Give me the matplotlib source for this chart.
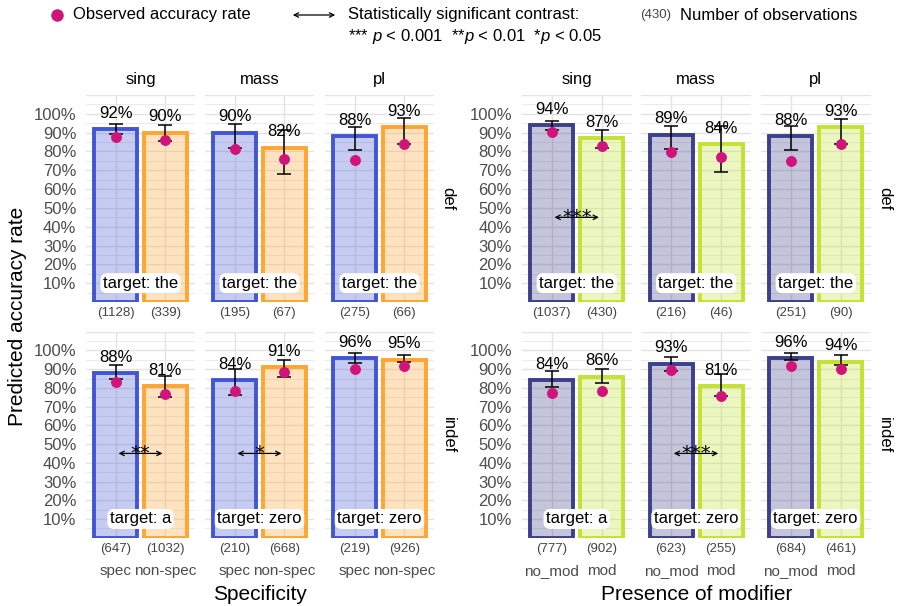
import matplotlib
matplotlib.use('Agg')
import matplotlib.pyplot as plt
from matplotlib.colors import to_rgba
import numpy as np

plt.rcParams['font.family'] = ['Liberation Sans', 'DejaVu Sans']
plt.rcParams['mathtext.fontset'] = 'custom'
plt.rcParams['mathtext.rm'] = 'Liberation Sans'
plt.rcParams['mathtext.it'] = 'Liberation Sans:italic'

# Data (proportions)
numbers = ['sing', 'mass', 'pl']
definiteness = ['def', 'indef']

spec_levels = ['spec', 'non-spec']
spec_pred = {'def': [[0.92, 0.90], [0.90, 0.82], [0.88, 0.93]],
             'indef': [[0.88, 0.81], [0.84, 0.91], [0.96, 0.95]]}
spec_lo = {'def': [[0.893, 0.855], [0.82, 0.682], [0.808, 0.84]],
           'indef': [[0.848, 0.75], [0.76, 0.86], [0.932, 0.938]]}
spec_hi = {'def': [[0.946, 0.939], [0.948, 0.916], [0.932, 0.978]],
           'indef': [[0.923, 0.862], [0.902, 0.95], [0.988, 0.977]]}
spec_obs = {'def': [[0.875, 0.863], [0.815, 0.76], [0.756, 0.841]],
            'indef': [[0.83, 0.767], [0.781, 0.887], [0.902, 0.916]]}
spec_n = {'def': [[1128, 339], [195, 67], [275, 66]],
          'indef': [[647, 1032], [210, 668], [219, 926]]}
spec_sig = {'def': [None, None, None], 'indef': ['**', '*', None]}

mod_levels = ['no_mod', 'mod']
mod_pred = {'def': [[0.94, 0.87], [0.89, 0.84], [0.88, 0.93]],
            'indef': [[0.84, 0.86], [0.93, 0.81], [0.96, 0.94]]}
mod_lo = {'def': [[0.915, 0.82], [0.815, 0.689], [0.809, 0.84]],
          'indef': [[0.803, 0.826], [0.89, 0.754], [0.947, 0.923]]}
mod_hi = {'def': [[0.96, 0.914], [0.937, 0.934], [0.937, 0.974]],
          'indef': [[0.889, 0.902], [0.965, 0.875], [0.988, 0.977]]}
mod_obs = {'def': [[0.901, 0.827], [0.799, 0.77], [0.751, 0.841]],
           'indef': [[0.771, 0.781], [0.893, 0.758], [0.916, 0.902]]}
mod_n = {'def': [[1037, 430], [216, 46], [251, 90]],
         'indef': [[777, 902], [623, 255], [684, 461]]}
mod_sig = {'def': ['***', None, None], 'indef': [None, '***', None]}

targets = {'def': ['the', 'the', 'the'], 'indef': ['a', 'zero', 'zero']}

W, H = 897, 606
POINT_COL = '#D1147C'
GRID_COL = '#E3E3E3'
FILL_ALPHA = 0.3

fig = plt.figure(figsize=(W / 100, H / 100), dpi=100)


def px_axes(x0, y0, x1, y1):
    return fig.add_axes([x0 / W, 1 - y1 / H, (x1 - x0) / W, (y1 - y0) / H])


def draw_group(panel_x, levels, pred, lo, hi, obs, nobs, sig, edge_cols, title):
    fill_cols = [to_rgba(col, FILL_ALPHA) for col in edge_cols]
    rows = [(95, 302), (331.7, 537.7)]
    for r, d in enumerate(definiteness):
        for c, num in enumerate(numbers):
            x0, x1 = panel_x[c]
            ax = px_axes(x0, rows[r][0], x1, rows[r][1])
            ax.set_xlim(0.4, 2.6)
            ax.set_ylim(0, 1.1)
            for v in np.arange(0.05, 1.11, 0.05):
                major = abs(v * 10 - round(v * 10)) < 1e-6
                ax.axhline(v, color=GRID_COL, lw=1.0 if major else 0.5, zorder=0)
            for xv in [1, 2]:
                ax.axvline(xv, color=GRID_COL, lw=1.0, zorder=0)
            for s in ax.spines.values():
                s.set_visible(False)
            ax.tick_params(length=0)

            xs = np.arange(1, 3)
            vals = pred[d][c]
            ax.bar(xs, vals, width=0.86, color=fill_cols, edgecolor=edge_cols,
                   linewidth=2.8, zorder=2)
            errs = [np.array(vals) - np.array(lo[d][c]), np.array(hi[d][c]) - np.array(vals)]
            ax.errorbar(xs, vals, yerr=errs, fmt='none', ecolor='black',
                        elinewidth=1.1, capsize=5, capthick=1.1, zorder=3)
            ax.scatter(xs, obs[d][c], s=62, color=POINT_COL, zorder=4, linewidths=0)
            for xv, v, n in zip(xs, vals, nobs[d][c]):
                ax.annotate(f'{round(v * 100)}%', (xv, v), xytext=(0, 6),
                            textcoords='offset points', ha='center', va='bottom',
                            fontsize=12, zorder=5)
                ax.annotate(f'({n})', (xv, 0), xytext=(0, -8),
                            textcoords='offset points', ha='center', va='center',
                            fontsize=9.5, color='#444444', annotation_clip=False)
            ax.text(1.5, 0.1, f'target: {targets[d][c]}', ha='center', va='center',
                    fontsize=12, zorder=6,
                    bbox=dict(boxstyle='round,pad=0.15,rounding_size=0.4',
                              fc='white', ec='none'))
            if sig[d][c]:
                ax.annotate('', xy=(2, 0.45), xytext=(1, 0.45),
                            arrowprops=dict(arrowstyle='<->', lw=0.9, color='black',
                                            mutation_scale=8), zorder=6)
                ax.annotate(sig[d][c], (1.5, 0.45), xytext=(0, -4),
                            textcoords='offset points', ha='center', va='baseline',
                            fontsize=14, family='DejaVu Sans', zorder=6)

            ax.set_yticks(np.arange(0.1, 1.01, 0.1))
            if c == 0:
                ax.set_yticklabels([f'{int(round(t * 100))}%' for t in np.arange(0.1, 1.01, 0.1)],
                                   fontsize=12, color='#4D4D4D')
                ax.tick_params(axis='y', pad=7)
            else:
                ax.set_yticklabels([])
            ax.set_xticks(xs)
            if r == 1:
                ax.set_xticklabels(levels, fontsize=11, color='#4D4D4D')
                ax.tick_params(axis='x', pad=19)
            else:
                ax.set_xticklabels([])
            if r == 0:
                ax.set_title(num, fontsize=12, pad=8)
            if c == 2:
                ax.text(1.06, 0.5, d, transform=ax.transAxes, rotation=270,
                        ha='left', va='center', fontsize=12)
    xc = (panel_x[0][0] + panel_x[2][1]) / 2
    fig.text(xc / W, 1 - 594 / H, title, ha='center', va='center', fontsize=15)


draw_group([(86, 195), (205, 314), (325, 434)], spec_levels, spec_pred, spec_lo,
           spec_hi, spec_obs, spec_n, spec_sig,
           ['#4255D3', '#FFA530'], 'Specificity')
draw_group([(521.7, 631.7), (641, 751), (760.7, 870.7)], mod_levels, mod_pred, mod_lo,
           mod_hi, mod_obs, mod_n, mod_sig,
           ['#3C3F8A', '#C3E232'], 'Presence of modifier')

fig.text(18 / W, 1 - 316 / H, 'Predicted accuracy rate', rotation=90,
         ha='center', va='center', fontsize=15)

# Legend across the top
fig.lines.append(plt.Line2D([57 / W], [1 - 15 / H], marker='o', ms=8, color=POINT_COL,
                            lw=0, transform=fig.transFigure))
fig.text(73 / W, 1 - 15 / H, 'Observed accuracy rate', ha='left', va='center', fontsize=12)
fig.patches.append(matplotlib.patches.FancyArrowPatch(
    (290 / W, 1 - 15 / H), (338 / W, 1 - 15 / H), arrowstyle='<->', mutation_scale=8,
    lw=0.9, color='black', transform=fig.transFigure))
fig.text(348 / W, 1 - 15 / H, 'Statistically significant contrast:', ha='left',
         va='center', fontsize=12)
fig.text(348 / W, 1 - 37 / H, r'*** $p$ < 0.001  **$p$ < 0.01  *$p$ < 0.05',
         ha='left', va='center', fontsize=12)
fig.text(640 / W, 1 - 15 / H, '(430)', ha='left', va='center', fontsize=9.5,
         color='#444444')
fig.text(680 / W, 1 - 15 / H, 'Number of observations', ha='left', va='center', fontsize=12)

fig.savefig('out.png', dpi=100, facecolor='white')
